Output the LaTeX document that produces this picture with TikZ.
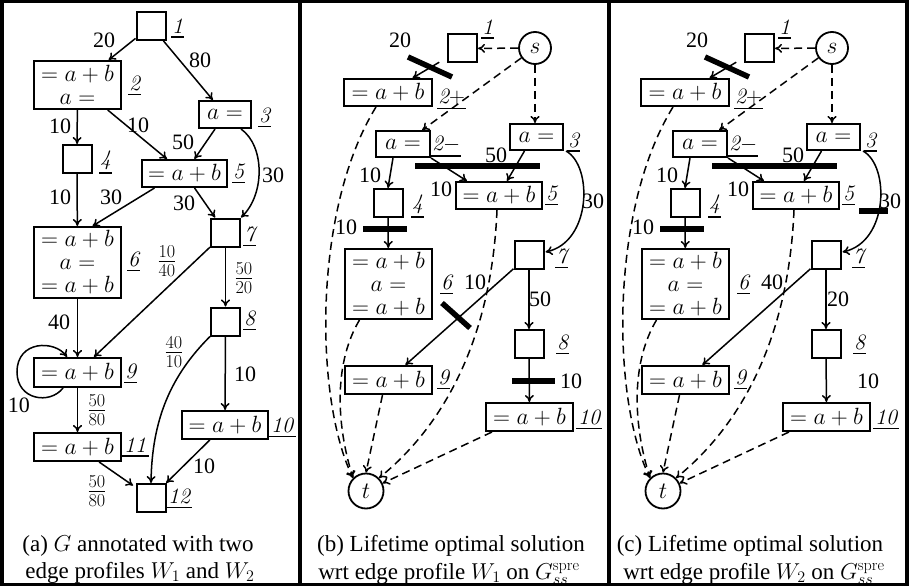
\RequirePackage{fix-cm}
\documentclass[tikz,border=0pt]{standalone}
\usepackage{fontspec}
\newfontfamily\tms{Liberation Serif}
\usetikzlibrary{arrows.meta,calc}
\newcommand\myfs{\fontsize{22}{23}\selectfont}
\newcommand\mybx{\fontsize{23.5}{23}\selectfont}
\newcommand\mycp{\fontsize{23}{25}\selectfont}
\newcommand\myfr{\fontsize{26}{27}\selectfont}
\newcommand\ulab[1]{\vtop{\hbox{\kern1pt#1\kern1pt}\kern2.5pt\hrule height 1.8pt}}
\tikzset{
 every node/.style={font=\myfs\tms},
 tbox/.style={draw, line width=2pt, inner sep=0pt, align=center, font=\mybx},
 sq/.style={tbox, minimum width=29pt, minimum height=28pt},
 circ/.style={draw, circle, line width=1.8pt, inner sep=0pt, font=\mybx},
 lab/.style={anchor=base west, inner sep=0pt, font=\myfs\itshape},
 elab/.style={inner sep=0pt},
 fracl/.style={inner sep=0pt, font=\myfr},
 arr/.style={line width=1.5pt, -{To[length=7pt,width=9pt]}},
 darr/.style={arr, dash pattern=on 8pt off 5pt},
 cutbar/.style={line width=5.5pt},
 frameline/.style={line width=3.5pt},
 capt/.style={anchor=base, inner sep=0pt, font=\mycp\tms},
}
\newcommand\solpanel[1]{%
 \node[sq] (#11) at (462.5,48.5) {};
 \node[circ, minimum size=32pt] (#1s) at (535,48) {$s$};
 \node[tbox, minimum width=88, minimum height=27] (#12p) at (388,92.5) {$=a+b$};
 \node[tbox, minimum width=54, minimum height=26] (#12m) at (403,144) {$a=$};
 \node[tbox, minimum width=53, minimum height=26] (#13) at (536.5,137) {$a=$};
 \node[sq] (#14) at (388,203) {};
 \node[tbox, minimum width=86, minimum height=27] (#15) at (499,195.5) {$=a+b$};
 \node[sq] (#17) at (529,255) {};
 \node[tbox, minimum width=87, minimum height=70] (#16) at (388.5,284) {$=a+b$\\$a=$\\$=a+b$};
 \node[sq] (#18) at (529,344) {};
 \node[tbox, minimum width=87, minimum height=28] (#19) at (388.5,380) {$=a+b$};
 \node[tbox, minimum width=87, minimum height=28] (#110) at (529.5,417) {$=a+b$};
 \node[circ, minimum size=35pt] (#1t) at (366,491) {$t$};
 % labels
 \node[lab] (#1l1) at (481,34.7) {\ulab{1}};
 \node[lab] (#1l2p) at (437,103.7) {\ulab{2$+$}};
 \node[lab] (#1l2m) at (431,150.7) {\ulab{2$-$}};
 \node[lab] (#1l3) at (567,147.4) {\ulab{3}};
 \node[lab] (#1l4) at (411,209.7) {\ulab{4}};
 \node[lab] (#1l5) at (545,200.7) {\ulab{5}};
 \node[lab] (#1l7) at (555,263.7) {\ulab{7}};
 \node[lab] (#1l6) at (440,289.7) {\ulab{6}};
 \node[lab] (#1l8) at (556,349.7) {\ulab{8}};
 \node[lab] (#1l9) at (437,384.7) {\ulab{9}};
 \node[lab] (#1l10) at (576,424.7) {\ulab{\kern1pt 10\kern1pt}};
 % edge labels
 \node[elab] at (400,40) {20};
 \node[elab] at (370,175) {10};
 \node[elab] at (441,189) {10};
 \node[elab] at (496,155) {50};
 \node[elab] at (593,201) {30};
 \node[elab] at (346,227) {10};
 \node[elab] at (571,381) {10};
 % edges
 \draw[darr] (#1s) -- (#11);
 \draw[darr] (#1s) -- (#12m);
 \draw[darr] (#1s.south) -- (#1s.south |- #13.north);
 \draw[arr, shorten <=9pt] (#11) -- (#12p);
 \draw[arr] ($(#12m.south)+(-10,0)$) -- (#14.north);
 \draw[arr] (#12m.south east) -- ($(#15.north west)+(12,0)$);
 \draw[arr] ($(#13.south)+(-12,0)$) -- ($(#15.north)+(8,0)$);
 \draw[arr] ($(#13.south east)+(2,0)$) .. controls +(27,15) and +(46,-10) .. ($(#17.east)+(1,-3)$);
 \draw[arr] (#14) -- (#16);
 \draw[arr] (#17) -- (#19);
 \draw[arr] (#17) -- (#18);
 \draw[arr] (#18) -- (#110);
 \draw[darr] ($(#12p.south)+(-12,0)$) .. controls +(-64,104) and +(-38,-78) .. (#1t.north west);
 \draw[darr] ($(#16.south)+(-29,0)$) .. controls +(-24.5,41) and +(-18,-58) .. (#1t.north west);
 \draw[darr] ($(#19.south)+(-6,0)$) -- (#1t.north);
 \draw[darr] ($(#15.south)+(-2,0)$) .. controls +(-5,121) and +(70,-57) .. (#1t.north east);
 \draw[darr] ($(#110.south west)+(7,0)$) -- (#1t.25);
 % common cuts
 \draw[cutbar] (408,57) -- (452,77);
 \draw[cutbar] (415,166) -- (540,166);
 \draw[cutbar] (363,229) -- (407,229);
}
\begin{document}
\begin{tikzpicture}[x=1pt,y=-1pt]
\useasboundingbox (0,0) rectangle (911,586);
\draw[frameline] (1.75,1.75) rectangle (907,584.5);
\draw[frameline] (300,0) -- (300,586);
\draw[frameline] (609,0) -- (609,586);
% ---------------- panel (a)
\node[sq] (a1) at (151,26) {};
\node[tbox, minimum width=87, minimum height=48] (a2) at (77.5,85) {$=a+b$\\$a=$};
\node[tbox, minimum width=52, minimum height=27] (a3) at (225,114.5) {$a=$};
\node[sq] (a4) at (77,159) {};
\node[tbox, minimum width=85, minimum height=27] (a5) at (184.5,173.5) {$=a+b$};
\node[tbox, minimum width=87, minimum height=71] (a6) at (77.5,262.5) {$=a+b$\\$a=$\\$=a+b$};
\node[sq] (a7) at (225.5,232.5) {};
\node[sq] (a8) at (225.5,321.5) {};
\node[tbox, minimum width=87, minimum height=29] (a9) at (77.5,372.5) {$=a+b$};
\node[tbox, minimum width=86, minimum height=28] (a10) at (225,425) {$=a+b$};
\node[tbox, minimum width=87, minimum height=28] (a11) at (77.5,447) {$=a+b$};
\node[sq] (a12) at (151,498) {};
\node[lab] (al1) at (171,33.7) {\ulab{1}};
\node[lab] (al2) at (128,90.7) {\ulab{2}};
\node[lab] (al3) at (258,122.7) {\ulab{3}};
\node[lab] (al4) at (99,165.7) {\ulab{4}};
\node[lab] (al5) at (232,178.7) {\ulab{5}};
\node[lab] (al7) at (243,241.7) {\ulab{7}};
\node[lab] (al6) at (127,266.7) {\ulab{6}};
\node[lab] (al8) at (243,325.7) {\ulab{8}};
\node[lab] (al9) at (124,378.7) {\ulab{9}};
\node[lab] (al10) at (269,432.7) {\ulab{\kern1pt 10\kern2pt}};
\node[lab] (al11) at (121,452.7) {\ulab{\kern2pt 11\kern2pt}};
\node[lab] (al12) at (166,503.7) {\ulab{\kern1pt 12\kern1pt}};
\node[elab] at (104,40) {20};
\node[elab] at (200,60) {80};
\node[elab] at (60,126) {10};
\node[elab] at (138,125) {10};
\node[elab] at (183,142) {50};
\node[elab] at (273,175) {30};
\node[elab] at (60,197) {10};
\node[elab] at (111,197) {30};
\node[elab] at (184,203) {30};
\node[elab] at (59,322) {40};
\node[elab] at (19,405) {10};
\node[elab] at (245,374) {10};
\node[elab] at (204,466) {10};
\node[fracl] at (167,261) {$\frac{10}{40}$};
\node[fracl] at (244,278) {$\frac{50}{20}$};
\node[fracl] at (174,352) {$\frac{40}{10}$};
\node[fracl] at (97,410) {$\frac{50}{80}$};
\node[fracl] at (97,491) {$\frac{50}{80}$};
\draw[arr] (a1) -- (a2);
\draw[arr] (a1) -- (a3);
\draw[arr] (a2) -- (a4);
\draw[arr] (a2) -- (a5);
\draw[arr] (a3) -- (a5);
\draw[arr] ($(a3.south east)+(-11,0)$) .. controls +(24,17) and +(24,-23) .. (a7.north east);
\draw[arr] (a4) -- (a6);
\draw[arr] ($(a5.south)+(-30,0)$) -- ($(a6.north)+(15,0)$);
\draw[arr] (a5) -- (a7);
\draw[arr] (a7) -- (a9);
\draw[arr] (a7) -- (a8);
\draw[arr] (a6) -- (a9);
\draw[arr] ($(a9.south west)+(30,0)$) .. controls (50,405) and (17,400) .. (17,372) .. controls (17,340) and (55,340) .. ($(a9.north west)+(34,0)$);
\draw[arr] (a9) -- (a11);
\draw[arr] (a8) -- (a10);
\draw[arr] (a8.south west) .. controls +(-39,39) and +(1,-64) .. (a12.north);
\draw[arr] (a10) -- (a12);
\draw[arr, shorten >=3pt] (a11) -- (a12);
\node[capt] at (138,551) {(a) $G$ annotated with two};
\node[capt] at (140,578) {edge profiles $W_1$ and $W_2$};
% ---------------- panel (b)
\solpanel{b}
\node[elab] at (475,282) {10};
\node[elab] at (540,299) {50};
\draw[cutbar] (442,303) -- (470,328);
\draw[cutbar] (512,381) -- (555,381);
\node[capt] at (451,551) {(b) Lifetime optimal solution};
\node[capt] at (449,579) {wrt edge profile $W_1$ on $G_{ss}^{\mathrm{spre}}$};
% ---------------- panel (c)
\begin{scope}[xshift=297pt]
\solpanel{c}
\node[elab] at (475,282) {40};
\node[elab] at (541,299) {20};
\draw[cutbar] (562,211) -- (591,211);
\end{scope}
\node[capt] at (750,551) {(c) Lifetime optimal solution};
\node[capt] at (754,579) {wrt edge profile $W_2$ on $G_{ss}^{\mathrm{spre}}$};
\end{tikzpicture}
\end{document}
